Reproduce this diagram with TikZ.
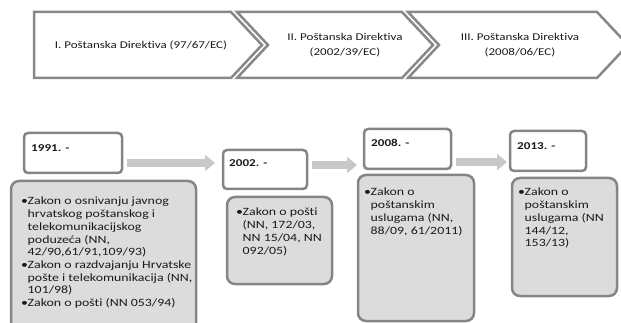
\documentclass[tikz,border=0pt]{standalone}
\usepackage{fontspec}
\setmainfont{Carlito}[FakeStretch=1.25, Ligatures=NoCommon]
\usetikzlibrary{arrows.meta}

\definecolor{chevgray}{HTML}{888888}
\definecolor{boxgray}{HTML}{858585}
\definecolor{boxfill}{HTML}{DCDCDC}
\definecolor{arrgray}{HTML}{C8C8C8}
\definecolor{txt}{HTML}{1A1A1A}

\newcommand{\bulit}{\makebox[6.5pt][l]{•}}
\newcommand{\contind}{\hspace*{6.5pt}}

\tikzset{
  chevron/.style={draw=chevgray, line width=2.5pt, line join=miter},
  chevtext/.style={font=\fontsize{10.4}{15}\selectfont, text=txt, align=center, inner sep=0},
  yearbox/.style={draw=boxgray, line width=2.5pt, fill=white, rounded corners=4pt, inner sep=0},
  yeartext/.style={font=\fontsize{10.5}{12}\selectfont\bfseries, text=txt, anchor=west, inner sep=0},
  lawbox/.style={draw=boxgray, line width=2.5pt, fill=boxfill, rounded corners=8pt, inner sep=0},
  lawtext/.style={font=\fontsize{11.1}{12.7}\selectfont, text=txt, align=left, anchor=north west, inner sep=0},
  blockarrow/.style={arrgray, line width=8pt, -{Triangle[length=10pt,width=16pt]}}
}

\begin{document}
\begin{tikzpicture}[x=1pt, y=-1pt]
		\useasboundingbox (0,0) rectangle (621,323);

		% directives
		\draw[chevron] (34,12) -- (231,12) -- (262,45) -- (231,78) -- (34,78) -- cycle;
		\draw[chevron] (237,12) -- (402,12) -- (433,45) -- (402,78) -- (237,78) -- (268,45) -- cycle;
		\draw[chevron] (408,12) -- (597,12) -- (628,45) -- (597,78) -- (408,78) -- (439,45) -- cycle;
		\node[chevtext] (dir1) at (141,45) {I. Poštanska Direktiva (97/67/EC)};
		\node[chevtext] (dir2) at (345,45) {II. Poštanska Direktiva\\(2002/39/EC)};
		\node[chevtext] (dir3) at (520,45) {III. Poštanska Direktiva\\(2008/06/EC)};

		% law boxes
		\node[lawbox, minimum width=185, minimum height=170] (law1) at (103.5,266) {};
		\node[lawbox, minimum width=105, minimum height=87] (law2) at (279.5,240.5) {};
		\node[lawbox, minimum width=116, minimum height=146] (law3) at (416,248) {};
		\node[lawbox, minimum width=105, minimum height=118] (law4) at (564.5,237) {};

		% year boxes
		\node[yearbox, minimum width=98, minimum height=40] (y1991) at (73,153) {};
		\node[yearbox, minimum width=84, minimum height=39] (y2002) at (265,169.5) {};
		\node[yearbox, minimum width=87, minimum height=40] (y2008) at (407.5,149) {};
		\node[yearbox, minimum width=76, minimum height=40] (y2013) at (548,151) {};
		\node[yeartext] (t1991) at (31,148) {1991. -};
		\node[yeartext] (t2002) at (229,163) {2002. -};
		\node[yeartext] (t2008) at (371,143) {2008. -};
		\node[yeartext] (t2013) at (517,146) {2013. -};

		% arrows
		\coordinate (a1s) at (127,163);
		\coordinate (a1e) at (215,163);
		\coordinate (a2s) at (312,165);
		\coordinate (a2e) at (357,165);
		\coordinate (a3s) at (456,162);
		\coordinate (a3e) at (507,162);
		\draw[blockarrow] (a1s) -- (a1e);
		\draw[blockarrow] (a2s) -- (a2e);
		\draw[blockarrow] (a3s) -- (a3e);

		% laws
		\node[lawtext] (l1) at (21,197) {\bulit Zakon o osnivanju javnog\\
			\contind hrvatskog poštanskog i\\
			\contind telekomunikacijskog\\
			\contind poduzeća (NN,\\
			\contind 42/90,61/91,109/93)\\
			\bulit Zakon o razdvajanju Hrvatske\\
			\contind pošte i telekomunikacija (NN,\\
			\contind 101/98)\\
			\bulit Zakon o pošti (NN 053/94)};
		\node[lawtext] (l2) at (236,208) {\bulit Zakon o pošti\\
			\contind (NN, 172/03,\\
			\contind NN 15/04, NN\\
			\contind 092/05)};
		\node[lawtext] (l3) at (364,188) {\bulit Zakon o\\
			\contind poštanskim\\
			\contind uslugama (NN,\\
			\contind 88/09, 61/2011)};
		\node[lawtext] (l4) at (518,188) {\bulit Zakon o\\
			\contind poštanskim\\
			\contind uslugama (NN\\
			\contind 144/12,\\
			\contind 153/13)};
	\end{tikzpicture}
\end{document}
